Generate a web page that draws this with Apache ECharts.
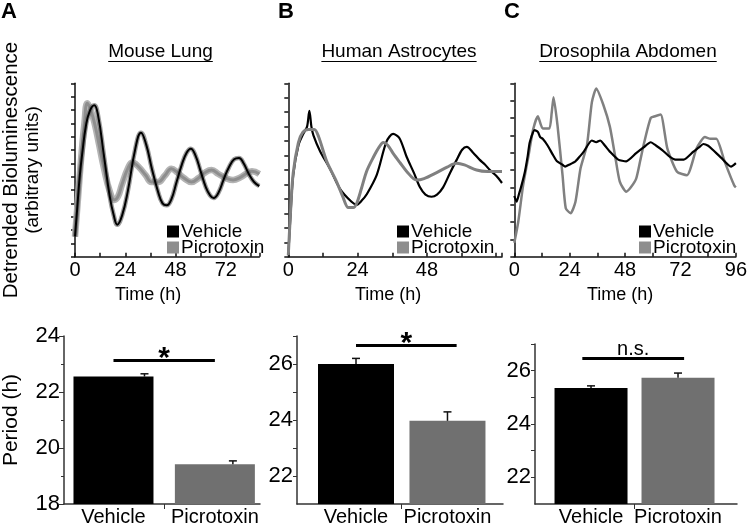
<!DOCTYPE html>
<html><head><meta charset="utf-8">
<script src="https://cdn.jsdelivr.net/npm/echarts@6/dist/echarts.min.js"></script>
<style>html,body{margin:0;padding:0;background:#fff}#c{width:750px;height:527px}</style>
</head><body><div id="c"></div>
<script>
// ---------- DATA ----------
const seriesNames = ['Vehicle', 'Picrotoxin'];
const panelTitles = ['Mouse Lung', 'Human Astrocytes', 'Drosophila Abdomen'];
const panelLetters = ['A', 'B', 'C'];

// Time (h), detrended bioluminescence (arbitrary units)
const lungVehicle = [[0,1.5],[1,3.5],[2.3,6.1],[3.5,7.8],[5.2,9.8],[7,10.9],[9.2,11.35],[11,10.6],[13.8,7.6],[16.6,4.5],[18.5,3.1],[20.2,2.4],[22.5,3.1],[25.2,4.9],[28.8,8.1],[31.5,9.3],[34,8.4],[36.7,6.6],[39.6,4.9],[41.8,4.0],[43.8,3.85],[46,4.3],[48.5,5.6],[51,6.9],[53.3,7.8],[55.3,8.1],[57.5,7.6],[60,6.4],[62.5,5.2],[64.5,4.6],[66.2,4.4],[68.5,4.8],[71,5.8],[73.5,6.7],[76,7.3],[78.3,7.4],[80.5,7.0],[83,6.2],[85.5,5.6],[88,5.3]];
const lungPicrotoxin = [[0,1.5],[1.5,4.5],[3,7.5],[4.5,10],[5.9,11.5],[7.5,11],[9.5,9.9],[11.5,8.4],[13.8,6.65],[16.6,4.9],[18.8,4.26],[20.5,4.5],[22.4,5.4],[25.2,6.6],[27.4,7.07],[30,6.8],[33.8,6.1],[36.5,5.6],[39.6,5.6],[43,6.1],[46,6.6],[49,6.3],[52,5.9],[55.6,5.6],[59,5.9],[62,6.3],[65.2,6.5],[68.5,6.2],[72,5.9],[75.5,5.75],[79,5.95],[82,6.25],[84.5,6.4],[88,6.2]];
const astroVehicle = [[0,0.1],[0.8,3],[1.7,5.65],[3.5,7.7],[5.2,8.5],[6.5,9],[7.3,10.1],[8.0,9],[8.7,8.4],[11,7.3],[14.4,6.1],[17.9,4.7],[21.9,3.8],[23.7,3.6],[25.5,3.9],[27.1,4.3],[30.6,5.65],[34,7.96],[36.3,8.5],[38.5,8.2],[41,6.9],[43.5,5.8],[45.6,4.8],[47.5,4.3],[49.6,4.15],[51.5,4.3],[53.6,4.8],[56,5.8],[58.3,6.7],[60.2,7.4],[61.8,7.6],[64,7.2],[66.3,6.7],[68,6.4],[69.8,6.0],[72,5.6],[74,5.1]];
const astroPicrotoxin = [[0,0.1],[0.8,3.2],[1.7,5.8],[3.5,7.9],[5,8.6],[7,8.8],[9,8.8],[10.5,8.3],[13.3,6.6],[16.7,5.2],[18.8,4.2],[20.8,3.4],[22.5,3.4],[23.7,3.7],[25.3,4.7],[27.1,5.9],[29.5,6.9],[31.5,7.6],[32.9,7.9],[34.5,7.7],[36.3,7.15],[38.7,6.5],[41,5.9],[44.4,5.3],[47,5.4],[51.2,5.8],[55,6.2],[58.3,6.46],[61,6.35],[65.2,6.0],[69,5.9],[74,5.9]];
const flyVehicle = [[0,3.5],[1,3.17],[2,3.6],[3.1,4.1],[4.6,4.9],[5.8,5.8],[6.7,6.6],[8.8,7.3],[10.2,7.2],[11.2,6.9],[12.3,6.8],[14.5,6.4],[16.6,5.9],[18.5,5.5],[20.9,5.3],[22,5.2],[23.7,5.3],[26.5,5.5],[28.5,5.8],[30.1,6.06],[33.6,6.7],[35.5,6.6],[37.2,6.7],[39.3,6.4],[41.4,6.06],[45,5.6],[48.5,5.5],[52.8,5.97],[56,6.3],[59.1,6.6],[61.5,6.4],[64.1,6.15],[67,5.8],[69.8,5.6],[73.4,5.6],[77.6,6.06],[80,6.3],[81.9,6.5],[84,6.4],[86.1,6.15],[89.7,5.7],[93.9,5.2],[96,5.4]];
const flyPicrotoxin = [[0,0.8],[1.7,2.0],[3.8,4.1],[6,5.7],[8.1,7.3],[10.2,8.1],[12.3,7.4],[15.2,7.4],[16.2,8.3],[17,9.2],[18.7,7.6],[20.9,4.7],[22.3,2.8],[24.4,2.5],[26.5,3.17],[28.7,5.1],[31.5,6.45],[33.6,8.9],[35.5,9.7],[38.6,8.75],[41.4,7.5],[43.6,5.87],[45.7,4.33],[48.5,3.75],[50.5,4.0],[52.8,4.5],[54.5,5.5],[56.3,6.6],[59.1,8.0],[61,8.1],[63.4,8.2],[66.3,6.25],[70.5,4.9],[74.8,4.7],[79,6.25],[82.6,6.9],[85,6.8],[87.5,6.8],[91.1,5.5],[95.3,4.1],[96,4.0]];

// Period (h): mean and error (SEM), order = seriesNames
const periodLung  = [22.55, 19.42];
const errLung     = [0.10, 0.12];
const periodAstro = [26.0, 23.97];
const errAstro    = [0.20, 0.32];
const periodFly   = [25.35, 25.73];
const errFly      = [0.08, 0.18];
const sigLabels   = ['*', '*', 'n.s.'];
const sigLevels   = [23.13, 26.66, 26.45];

// ---------- STYLE ----------
const FONT = "'Liberation Sans', Arial, sans-serif";
const BLACK = '#000000', GRAY = '#707070', LGRAY = '#808080';

const chart = echarts.init(document.getElementById('c'), null, {renderer:'canvas'});

const topGrids = [
  {left:54.7, top:83.3, width:204.6, height:173.4},
  {left:288.3, top:83.3, width:213.7, height:173.4},
  {left:514.3, top:83.3, width:225.7, height:173.4}
];
const botGrids = [
  {left:58, top:336, width:202, height:172},
  {left:297, top:336, width:206, height:171},
  {left:535, top:344, width:202, height:160}
];
const topX = [
  {max:88, lab:v => v % 24 === 0 ? String(v) : '', pad:[0,38,0,0]},
  {max:74, lab:v => (v % 24 === 0 && v < 72) ? String(v) : '', pad:[0,14,0,0]},
  {max:96, lab:v => v % 24 === 0 ? String(v) : '', pad:[0,10,0,0]}
];
const topYmax = [13, 12, 10];
const botX = [[0.512, 2.445], [0.355, 2.607], [0.356, 2.678]];
const botY = [[18, 24], [21, 27], [21, 27]];
const barW = [80, 76, 73];
const errOff = [[31, 18], [0, 0], [0, 0]];
const sigSpan = [[1.0, 2.0], [1.0, 2.1], [0.9, 2.07]];

const axisLineStyle = {color:'#111', width:1.5};

const grid = [...topGrids, ...botGrids];
const xAxis = [], yAxis = [];
topGrids.forEach((g, i) => {
  xAxis.push({type:'value', gridIndex:i, min:0, max:topX[i].max, interval:12,
    axisLine:{show:true, onZero:false, lineStyle:axisLineStyle},
    axisTick:{show:true, inside:true, length:4, lineStyle:axisLineStyle},
    axisLabel:{formatter:topX[i].lab, fontFamily:FONT, fontSize:20, color:'#000', margin:4, showMaxLabel:true},
    splitLine:{show:false},
    name:'Time (h)', nameLocation:'middle', nameGap:29,
    nameTextStyle:{fontFamily:FONT, fontSize:18, color:'#000', padding:topX[i].pad}});
  yAxis.push({type:'value', gridIndex:i, min:0, max:topYmax[i], interval:1,
    axisLine:{show:true, onZero:false, lineStyle:axisLineStyle},
    axisTick:{show:true, length:4, lineStyle:axisLineStyle},
    axisLabel:{show:false}, splitLine:{show:false},
    name: i === 0 ? '{a|Detrended Bioluminescence}\n{b|(arbitrary units)}' : '',
    nameLocation:'middle', nameGap:32,
    nameTextStyle:{fontFamily:FONT, color:'#000',
      rich:{a:{fontFamily:FONT, fontSize:20.5, lineHeight:21, color:'#000'},
            b:{fontFamily:FONT, fontSize:19, lineHeight:21, color:'#000'}}}});
});
botGrids.forEach((g, i) => {
  const gi = i + 3;
  xAxis.push({type:'value', gridIndex:gi, min:botX[i][0], max:botX[i][1],
    axisLine:{show:true, onZero:false, lineStyle:{color:'#333', width:1.5}},
    axisTick:{show:true, customValues:[1.5], length:5, lineStyle:{color:'#333'}},
    axisLabel:{customValues:[1, 2], formatter:v => seriesNames[Math.round(v) - 1],
      fontFamily:FONT, fontSize:20, color:'#000', margin:3},
    splitLine:{show:false}});
  const yCfg = {type:'value', gridIndex:gi, min:botY[i][0], max:botY[i][1],
    axisLine:{show:true, onZero:false, lineStyle:{color:'#333', width:1.5}},
    axisLabel:{fontFamily:FONT, fontSize:22, color:'#000', margin:4},
    splitLine:{show:false},
    name: i === 0 ? 'Period (h)' : '', nameLocation:'middle', nameGap:42,
    nameTextStyle:{fontFamily:FONT, fontSize:21, color:'#000'}};
  if (i === 0) {
    yCfg.interval = 2;
    yCfg.axisTick = {show:true, length:5, lineStyle:{color:'#333'}};
    yCfg.minorTick = {show:true, splitNumber:2, length:3, lineStyle:{color:'#333'}};
  } else {
    yCfg.axisLabel.customValues = [22, 24, 26];
    yCfg.axisTick = {show:true, customValues:[22,23,24,25,26,27], length:4, lineStyle:{color:'#333'}};
  }
  yAxis.push(yCfg);
});

const line = (name, data, idx, color, width, z, smooth) => ({
  type:'line', name, data, xAxisIndex:idx, yAxisIndex:idx, showSymbol:false, symbol:'none',
  smooth: smooth, lineStyle:{color, width}, itemStyle:{color}, z, silent:true
});

const series = [
  line('halo-lp', lungPicrotoxin, 0, '#b4b4b4', 6.5, 1, 0.45),
  line('Picrotoxin', lungPicrotoxin, 0, '#8e8e8e', 3, 2, 0.45),
  line('halo-lv', lungVehicle, 0, 'rgba(90,90,90,0.6)', 4.5, 3, 0.45),
  line('Vehicle', lungVehicle, 0, BLACK, 2, 4, 0.45),
  line('Vehicle', astroVehicle, 1, BLACK, 2.2, 2, 0.3),
  line('Picrotoxin', astroPicrotoxin, 1, LGRAY, 3, 3, 0.3),
  line('Picrotoxin', flyPicrotoxin, 2, LGRAY, 2.5, 2, 0.2),
  line('Vehicle', flyVehicle, 2, BLACK, 2.2, 3, 0.2)
];

const periods = [periodLung, periodAstro, periodFly];
const errs = [errLung, errAstro, errFly];
[0,1,2].forEach(i => {
  const gi = i + 3;
  const star = sigLabels[i] === '*';
  series.push({
    type:'bar', name:'bars' + i, xAxisIndex:gi, yAxisIndex:gi, barWidth:barW[i], clip:true,
    data: periods[i].map((v, k) => ({value:[k + 1, v], itemStyle:{color: k === 0 ? BLACK : GRAY}})),
    silent:true, z:2,
    markLine:{silent:true, symbol:['none','none'], animation:false,
      lineStyle:{color:'#000', width:3, type:'solid'},
      label:{show:true, position:'middle', formatter:sigLabels[i], fontFamily:FONT, color:'#000',
        fontSize: star ? 30 : 20, fontWeight: star ? 'bold' : 'normal',
        distance: star ? -13 : -1},
      data:[[{coord:[sigSpan[i][0], sigLevels[i]]}, {coord:[sigSpan[i][1], sigLevels[i]]}]]}
  });
  series.push({
    type:'custom', name:'err' + i, xAxisIndex:gi, yAxisIndex:gi, z:5, silent:true,
    data: periods[i].map((v, k) => [k + 1, v, errs[i][k]]),
    renderItem: (params, api) => {
      const x = api.value(0), v = api.value(1), e = api.value(2);
      const off = errOff[i][params.dataIndex];
      const p0 = api.coord([x, v]), p1 = api.coord([x, v + e]);
      const st = {stroke:'#111', lineWidth:1.5};
      return {type:'group', children:[
        {type:'line', shape:{x1:p0[0] + off, y1:p0[1], x2:p1[0] + off, y2:p1[1]}, style:st},
        {type:'line', shape:{x1:p1[0] + off - 4, y1:p1[1], x2:p1[0] + off + 4, y2:p1[1]}, style:st}
      ]};
    }
  });
});

// legends
const legendPos = [[162, 217], [392, 217], [634, 217]];
const legend = legendPos.map(p => ({
  data: seriesNames, orient:'vertical', left:p[0], top:p[1], icon:'rect',
  itemWidth:12, itemHeight:12, itemGap:-3, selectedMode:false,
  textStyle:{fontFamily:FONT, fontSize:19, color:'#000', lineHeight:16, padding:[0,0,0,-3]}
}));

// titles, underlines, panel letters
const ctx = document.createElement('canvas').getContext('2d');
const titleFont = 19;
ctx.font = titleFont + 'px ' + FONT;
const titleCenters = [[160.5, 52], [399, 52], [628, 52]];
const graphic = [];
panelTitles.forEach((t, i) => {
  const [cx, cy] = titleCenters[i];
  const w = ctx.measureText(t).width;
  graphic.push({type:'text', left:cx - w / 2, top:cy - 10, style:{text:t, font:titleFont + 'px ' + FONT, fill:'#000'}});
  graphic.push({type:'line', shape:{x1:cx - w / 2, y1:cy + 9.5, x2:cx + w / 2, y2:cy + 9.5}, style:{stroke:'#000', lineWidth:1}});
});
const letterPos = [[1, 1], [278, 1], [504, 1]];
panelLetters.forEach((L, i) => {
  graphic.push({type:'text', left:letterPos[i][0], top:letterPos[i][1], style:{text:L, font:'bold 22px ' + FONT, fill:'#000'}});
});

chart.setOption({
  animation:false,
  backgroundColor:'#fff',
  grid, xAxis, yAxis, series, legend, graphic
});
</script></body></html>
